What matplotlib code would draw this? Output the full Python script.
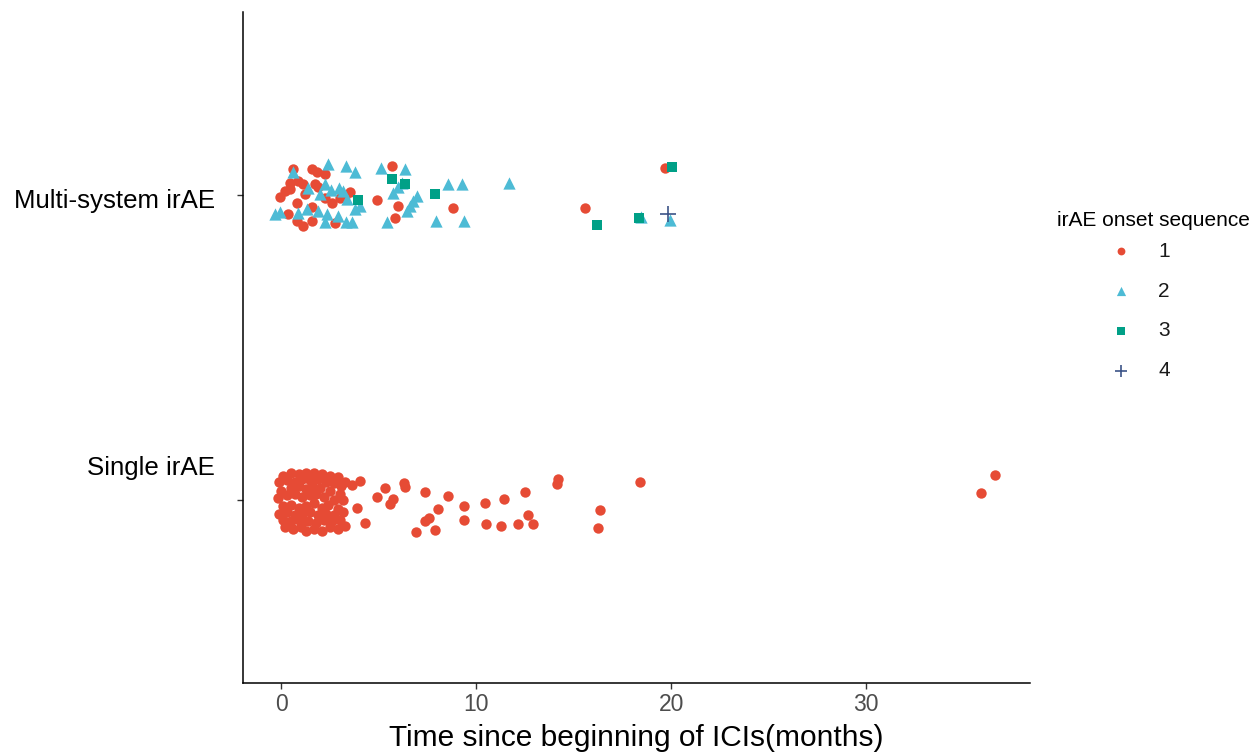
import matplotlib
matplotlib.use("Agg")
import matplotlib.pyplot as plt
from matplotlib.transforms import blended_transform_factory, offset_copy

plt.rcParams['font.family'] = ['Liberation Sans', 'DejaVu Sans']

# ---------------- data ----------------
categories = ["Single irAE", "Multi-system irAE"]   # y = 1, 2
sequence_labels = ["1", "2", "3", "4"]
colors = ["#E64B35", "#4DBBD5", "#00A087", "#3C5488"]

# onset sequence 1, multi-system group (months, jitter offset)
seq1_multi_x = [0.62, 1.59, 1.85, 2.26, 0.46, 0.87, 1.13, 1.74, 0.21, -0.05, 0.82, 1.59,
                2.26, 2.62, 3.03, 3.28, 3.54, 4.92, 5.69, 6.00, 5.85, 8.82, 0.36, 0.82,
                1.13, 1.59, 2.77, 15.59, 19.69, 1.90, 0.46, 1.23]
seq1_multi_off = [0.086, 0.086, 0.076, 0.069, 0.040, 0.046, 0.036, 0.036, 0.013, -0.007, -0.026, -0.040,
                  -0.010, -0.026, -0.010, -0.003, 0.010, -0.017, 0.096, -0.036, -0.076, -0.043, -0.063, -0.086,
                  -0.102, -0.086, -0.092, -0.043, 0.089, 0.026, 0.020, 0.003]

# onset sequence 1, single irAE group
seq1_single_x = [0.1, 0.5, 0.9, 1.3, 1.7, 2.1, 2.5, 2.9, 3.3,
                 -0.1, 0.3, 0.7, 1.1, 1.5, 1.9, 2.3, 2.7, 3.1,
                 0.0, 0.5, 0.9, 1.3, 1.6, 2.0, 2.5, 3.0,
                 -0.15, 0.3, 0.7, 1.1, 1.5, 1.8, 2.2, 2.7, 3.2,
                 0.1, 0.5, 0.9, 1.3, 1.7, 2.1, 2.4, 2.9,
                 -0.1, 0.3, 0.7, 1.1, 1.5, 1.9, 2.3, 2.7, 3.2,
                 0.1, 0.5, 0.9, 1.4, 1.8, 2.2, 2.6, 3.0,
                 0.2, 0.6, 1.0, 1.3, 1.7, 2.1, 2.5, 2.9, 3.3,
                 3.64, 4.05, 3.90, 4.31, 4.92, 5.33, 5.74, 5.59, 6.31, 6.36, 7.38, 8.56,
                 8.05, 7.59, 7.38, 6.92, 7.90, 9.38, 9.38, 10.46, 10.51, 11.28, 11.44, 12.51,
                 12.15, 12.92, 12.67, 14.21, 14.15, 16.36, 16.26, 18.41, 35.90, 36.62]
seq1_single_off = [0.080, 0.090, 0.085, 0.090, 0.088, 0.085, 0.080, 0.075, 0.060,
                   0.060, 0.065, 0.060, 0.070, 0.065, 0.070, 0.060, 0.055, 0.045,
                   0.030, 0.040, 0.045, 0.035, 0.045, 0.040, 0.030, 0.020,
                   0.005, 0.015, 0.020, 0.010, 0.015, 0.020, 0.010, 0.000, 0.000,
                   -0.020, -0.015, -0.025, -0.020, -0.010, -0.025, -0.015, -0.030,
                   -0.045, -0.040, -0.050, -0.045, -0.040, -0.050, -0.045, -0.050, -0.040,
                   -0.065, -0.070, -0.065, -0.070, -0.075, -0.065, -0.070, -0.065,
                   -0.090, -0.095, -0.090, -0.100, -0.095, -0.100, -0.090, -0.095, -0.085,
                   0.050, 0.063, -0.026, -0.076, 0.010, 0.040, 0.003, -0.013, 0.056, 0.043, 0.026, 0.013,
                   -0.030, -0.059, -0.069, -0.106, -0.099, -0.020, -0.066, -0.010, -0.079, -0.086, 0.003, 0.026,
                   -0.079, -0.079, -0.050, 0.069, 0.053, -0.033, -0.092, 0.059, 0.023, 0.083]

# onset sequence 2 (multi-system only)
seq2_x = [2.41, 3.33, 3.79, 5.13, 6.36, 0.62, 1.38, 2.26, 2.56, 2.97, 2.00, 6.21,
          6.00, 5.74, 6.97, 6.77, 6.62, 6.46, 8.56, 9.28, 11.69, 3.38, 4.05, 3.79,
          -0.05, -0.31, 0.87, 1.33, 1.90, 2.36, 2.92, 3.33, 3.64, 2.26, 5.44, 7.95,
          9.38, 18.46, 19.95, 3.18]
seq2_off = [0.102, 0.096, 0.076, 0.089, 0.086, 0.076, 0.023, 0.036, 0.017, 0.023, 0.003, 0.040,
            0.026, 0.007, -0.003, -0.020, -0.036, -0.053, 0.036, 0.036, 0.040, -0.013, -0.036, -0.046,
            -0.056, -0.063, -0.059, -0.046, -0.053, -0.063, -0.069, -0.089, -0.089, -0.089, -0.089, -0.086,
            -0.086, -0.073, -0.083, 0.013]

# onset sequence 3
seq3_x = [5.69, 6.36, 3.95, 7.90, 16.21, 18.36, 20.05]
seq3_off = [0.053, 0.036, -0.017, 0.003, -0.099, -0.076, 0.092]

# onset sequence 4
seq4_x = [19.85]
seq4_off = [-0.063]

# ---------------- figure ----------------
W, H = 1256, 753
fig = plt.figure(figsize=(W / 100, H / 100), dpi=100)
ax = fig.add_axes([243 / W, 1 - 683 / H, (1030 - 243) / W, (683 - 12) / H])

y_single = 1
y_multi = 2

h1 = ax.scatter(seq1_multi_x, [y_multi + o for o in seq1_multi_off], s=56, marker='o',
                color=colors[0], linewidths=0, zorder=3, label=sequence_labels[0])
ax.scatter(seq1_single_x, [y_single + o for o in seq1_single_off], s=56, marker='o',
           color=colors[0], linewidths=0, zorder=3)
h2 = ax.scatter(seq2_x, [y_multi + o for o in seq2_off], s=78, marker='^',
                color=colors[1], linewidths=0, zorder=4, label=sequence_labels[1])
h3 = ax.scatter(seq3_x, [y_multi + o for o in seq3_off], s=52, marker='s',
                color=colors[2], linewidths=0, zorder=5, label=sequence_labels[2])
h4 = ax.scatter(seq4_x, [y_multi + o for o in seq4_off], s=140, marker='+',
                color=colors[3], linewidths=1.2, zorder=6, label=sequence_labels[3])

ax.set_xlim(-1.95, 38.4)
ax.set_ylim(0.4, 2.6)

ax.set_xticks([0, 10, 20, 30])
ax.set_xticklabels(["0", "10", "20", "30"])
ax.set_yticks([y_single, y_multi])
ax.set_yticklabels(["", ""])

for side in ["top", "right"]:
    ax.spines[side].set_visible(False)
for side in ["left", "bottom"]:
    ax.spines[side].set_linewidth(1.1)
    ax.spines[side].set_color("black")

ax.tick_params(axis='x', length=4.5, width=1.0, color='#333333', labelsize=16.5,
               labelcolor='#4D4D4D', pad=3)
ax.tick_params(axis='y', length=4.5, width=1.0, color='#333333')

# category labels (positioned as in the reference)
trans = offset_copy(blended_transform_factory(ax.transAxes, ax.transData), fig=fig,
                    x=-28, y=0, units='dots')
ax.text(0, y_multi - 0.020, categories[1], transform=trans, ha='right', va='center',
        fontsize=18.6, color='black')
ax.text(0, y_single + 0.106, categories[0], transform=trans, ha='right', va='center',
        fontsize=18.6, color='black')

ax.set_xlabel("Time since beginning of ICIs(months)", fontsize=21.5, color='black', labelpad=5.5)

# legend
fig.text(1057 / W, 1 - 221 / H, "irAE onset sequence", ha='left', va='center',
         fontsize=15, color='black')
leg = fig.legend([h1, h2, h3, h4], sequence_labels, loc='upper left',
                 bbox_to_anchor=(1081 / W, 1 - 223 / H), frameon=False, fontsize=15,
                 labelspacing=1.0, handletextpad=0.8, borderpad=0.4, markerscale=0.75,
                 scatterpoints=1)
for t in leg.get_texts():
    t.set_color('#1A1A1A')

fig.savefig("out.png", dpi=100)
